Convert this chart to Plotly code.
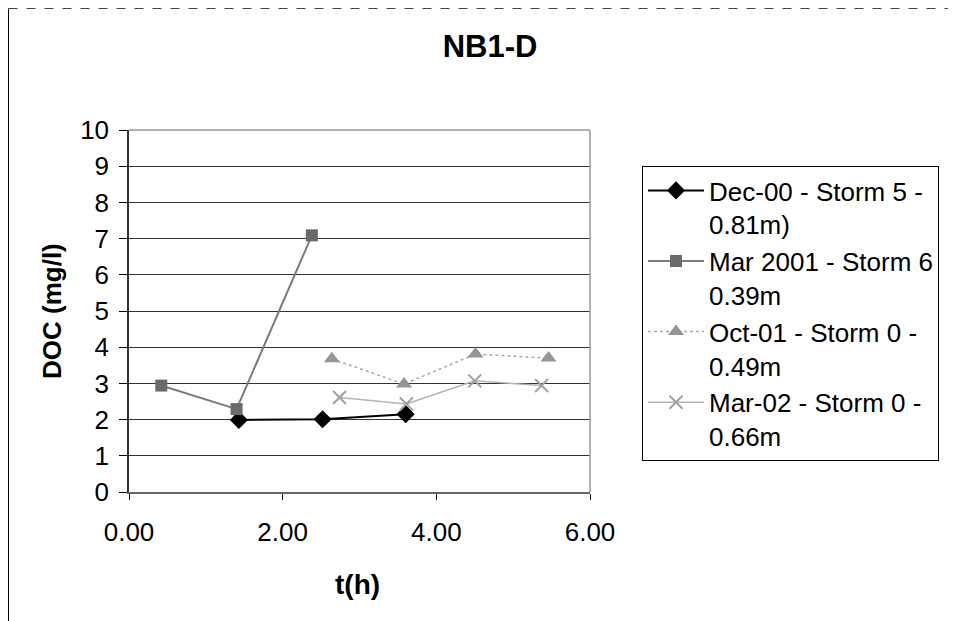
import plotly.graph_objects as go

# ---- data ----
series_names = [
    "Dec-00 - Storm 5 -<br>0.81m)",
    "Mar 2001 - Storm 6<br>0.39m",
    "Oct-01 - Storm 0 -<br>0.49m",
    "Mar-02 - Storm 0 -<br>0.66m",
]
dec00_t = [1.43, 2.52, 3.60]
dec00_doc = [1.99, 2.01, 2.15]
mar01_t = [0.42, 1.40, 2.38]
mar01_doc = [2.94, 2.29, 7.09]
oct01_t = [2.64, 3.58, 4.51, 5.46]
oct01_doc = [3.68, 2.98, 3.81, 3.70]
mar02_t = [2.74, 3.61, 4.50, 5.37]
mar02_doc = [2.61, 2.43, 3.07, 2.94]

x_ticks = [0, 2, 4, 6]
y_ticks = list(range(0, 11))

FONT = "Liberation Sans, Arial, sans-serif"

# the page body has an 8px margin: work in page pixels and shift
OFF = 8
PAGE_W, PAGE_H = 956, 621
W, H = PAGE_W - OFF, PAGE_H - OFF
# plot area in page pixels
L, R, T, B = 129, 590, 130, 492
PW, PH = R - L, B - T

def px_x(p):
    return (p - L) / PW

def px_y(p):
    return (B - p) / PH

def cx(p):
    return (p - OFF) / W

def cy(p):
    return 1 - (p - OFF) / H

fig = go.Figure()

fig.add_trace(go.Scatter(
    x=dec00_t, y=dec00_doc, name=series_names[0], mode="lines+markers",
    line=dict(color="#000000", width=2),
    marker=dict(symbol="diamond", size=14, color="#000000"),
    legendgroup="a",
))
fig.add_trace(go.Scatter(
    x=mar01_t, y=mar01_doc, name=series_names[1], mode="lines+markers",
    line=dict(color="#7a7a7a", width=2),
    marker=dict(symbol="square", size=12, color="#6a6a6a"),
    legendgroup="b",
))
fig.add_trace(go.Scatter(
    x=oct01_t, y=oct01_doc, name=series_names[2], mode="lines+markers",
    line=dict(color="#a8a8a8", width=1.5, dash="dot"),
    marker=dict(symbol="triangle-up", size=14, color="#959595"),
    legendgroup="c",
))
fig.add_trace(go.Scatter(
    x=mar02_t, y=mar02_doc, name=series_names[3], mode="lines+markers",
    line=dict(color="#b4b4b4", width=1.5),
    marker=dict(symbol="x-thin", size=13, line=dict(color="#a0a0a0", width=2)),
    legendgroup="d",
))

fig.update_layout(
    width=W, height=H,
    margin=dict(l=L - OFF, r=PAGE_W - R, t=T - OFF, b=PAGE_H - B, pad=0),
    paper_bgcolor="white", plot_bgcolor="white",
    font=dict(family=FONT, color="#000000", size=26),
    title=dict(text="<b>NB1-D</b>", x=cx(490), xref="container", xanchor="center",
               y=cy(46), yref="container", yanchor="middle",
               font=dict(family=FONT, size=31, color="#000000")),
    showlegend=True,
    legend=dict(
        xref="container", yref="container",
        x=cx(642), y=cy(166), xanchor="left", yanchor="top",
        bgcolor="white", bordercolor="#000000", borderwidth=1,
        font=dict(family=FONT, size=26, color="#000000"),
        tracegroupgap=0, itemwidth=56, valign="top",
    ),
    xaxis=dict(
        range=[0, 6], tickvals=x_ticks, tickformat=".2f",
        showgrid=False, zeroline=False,
        showline=True, linecolor="#666666", linewidth=2,
        ticks="outside", ticklen=6, tickcolor="#000000",
        ticklabelstandoff=10,
        tickfont=dict(family=FONT, size=26),
        fixedrange=True,
    ),
    yaxis=dict(
        range=[0, 10], tickvals=y_ticks,
        showgrid=True, gridcolor="#333333", gridwidth=1,
        zeroline=False,
        showline=True, linecolor="#333333", linewidth=1.5,
        ticks="outside", ticklen=8, tickcolor="#000000",
        ticklabelstandoff=5,
        tickfont=dict(family=FONT, size=26),
        fixedrange=True,
    ),
    annotations=[
        dict(text="<b>DOC (mg/l)</b>", textangle=-90, x=px_x(52), y=px_y(311),
             xref="paper", yref="paper", showarrow=False,
             xanchor="center", yanchor="middle",
             font=dict(family=FONT, size=26, color="#000000")),
        dict(text="<b>t(h)</b>", x=px_x(357), y=px_y(584),
             xref="paper", yref="paper", showarrow=False,
             xanchor="center", yanchor="middle",
             font=dict(family=FONT, size=28, color="#000000")),
    ],
    shapes=[
        # plot area top / right border
        dict(type="line", xref="paper", yref="paper", x0=0, x1=1, y0=1, y1=1,
             line=dict(color="#999999", width=1.5)),
        dict(type="line", xref="paper", yref="paper", x0=1, x1=1, y0=0, y1=1,
             line=dict(color="#999999", width=1.5)),
        # chart frame
        dict(type="line", xref="paper", yref="paper",
             x0=px_x(8.5), x1=px_x(8.5), y0=px_y(8.5), y1=px_y(PAGE_H + 5),
             line=dict(color="#000000", width=1)),
        dict(type="line", xref="paper", yref="paper",
             x0=px_x(8.5), x1=px_x(PAGE_W + 5), y0=px_y(8.5), y1=px_y(8.5),
             line=dict(color="#444444", width=1, dash="dash")),
    ],
)

fig.write_html("out.html")
